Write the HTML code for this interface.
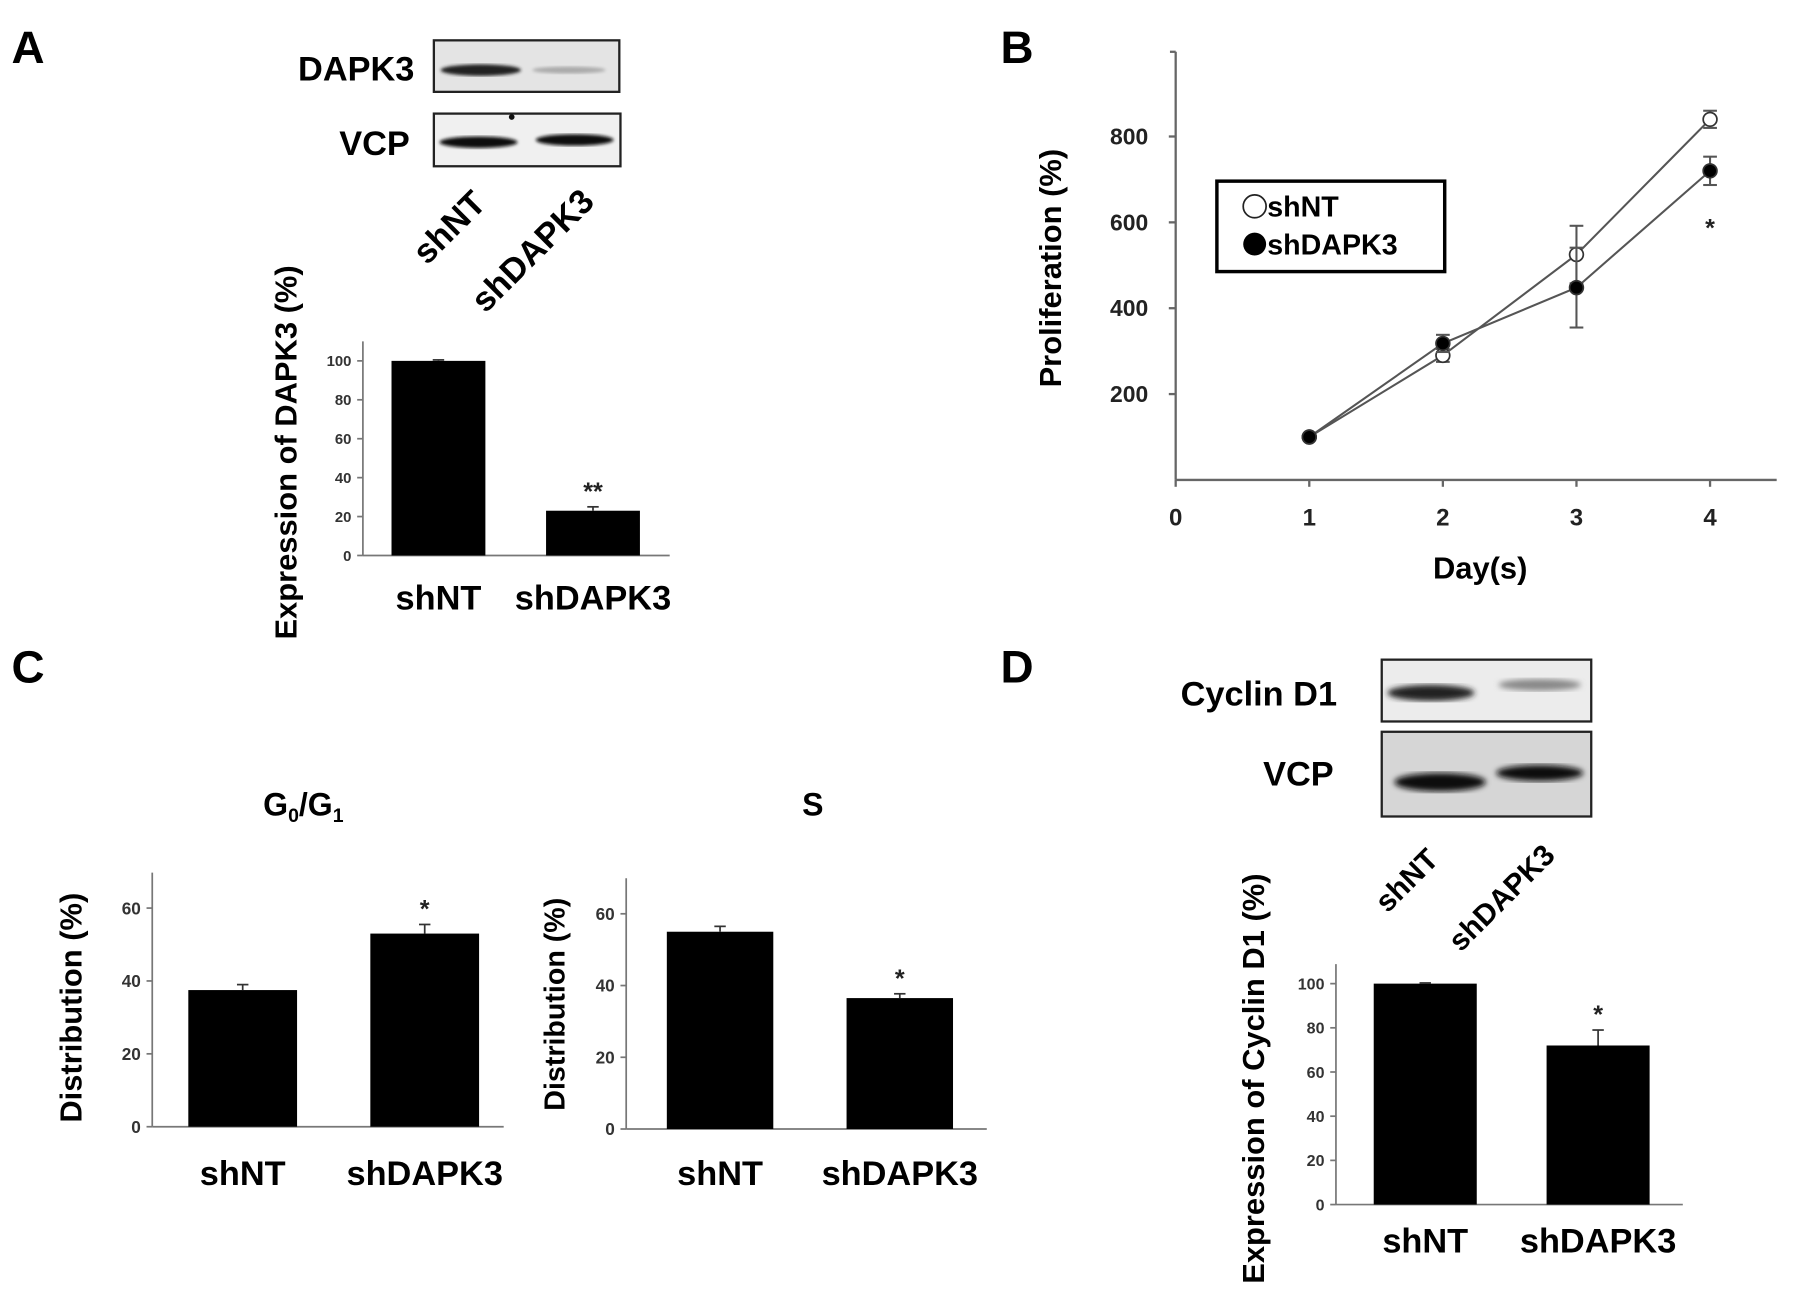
<!DOCTYPE html>
<html><head><meta charset="utf-8"><style>
html,body{margin:0;padding:0;background:#fff}
svg{display:block;font-family:"Liberation Sans",Arial,sans-serif;font-weight:bold}
</style></head><body>
<svg id="fig" width="1795" height="1301" viewBox="0 0 1568 1136" xmlns="http://www.w3.org/2000/svg">
<defs>
<filter id="blur"><feGaussianBlur stdDeviation="2.5"/></filter>
<filter id="blur2"><feGaussianBlur stdDeviation="1.5"/></filter>
</defs>
<text x="10" y="55" font-size="40">A</text>
<text x="874" y="55" font-size="40">B</text>
<text x="10" y="596" font-size="40">C</text>
<text x="874" y="596" font-size="40">D</text>

<g>
<text x="362" y="70" font-size="30" text-anchor="end">DAPK3</text>
<rect x="379" y="35" width="162" height="45" fill="#e4e4e4" stroke="#222" stroke-width="2"/>
<ellipse cx="420" cy="61" rx="35" ry="5" fill="#222" filter="url(#blur2)"/>
<ellipse cx="497" cy="61" rx="32" ry="3" fill="#aaa" filter="url(#blur2)"/>
<text x="358" y="135" font-size="30" text-anchor="end">VCP</text>
<rect x="379" y="99" width="163" height="46" fill="#f0f0f0" stroke="#222" stroke-width="2"/>
<ellipse cx="418" cy="124" rx="34" ry="5" fill="#111" filter="url(#blur2)"/>
<ellipse cx="502" cy="122" rx="34" ry="5" fill="#111" filter="url(#blur2)"/>
<circle cx="447" cy="102" r="2.5" fill="#111"/>
<text x="0" y="0" font-size="30" transform="translate(373,232) rotate(-45)">shNT</text>
<text x="0" y="0" font-size="30" transform="translate(424,274) rotate(-45)">shDAPK3</text>
</g>

<g>
<text x="1168" y="616" font-size="30" text-anchor="end">Cyclin D1</text>
<rect x="1207" y="576" width="183" height="54" fill="#ececec" stroke="#222" stroke-width="2"/>
<ellipse cx="1250" cy="605" rx="38" ry="7" fill="#222" filter="url(#blur)"/>
<ellipse cx="1345" cy="598" rx="36" ry="5" fill="#888" filter="url(#blur)"/>
<text x="1165" y="686" font-size="30" text-anchor="end">VCP</text>
<rect x="1207" y="639" width="183" height="74" fill="#d6d6d6" stroke="#222" stroke-width="2"/>
<ellipse cx="1258" cy="683" rx="40" ry="8" fill="#111" filter="url(#blur)"/>
<ellipse cx="1345" cy="675" rx="38" ry="7" fill="#111" filter="url(#blur)"/>
<text x="0" y="0" font-size="26" transform="translate(1212,798) rotate(-45)">shNT</text>
<text x="0" y="0" font-size="26" transform="translate(1276,832) rotate(-45)">shDAPK3</text>
</g>

<text x="265" y="712" font-size="28" text-anchor="middle">G<tspan font-size="17" dy="6">0</tspan><tspan dy="-6">/G</tspan><tspan font-size="17" dy="6">1</tspan></text>
<text x="710" y="712" font-size="28" text-anchor="middle">S</text>

<g id="charts"></g>
</svg>
<script>
const NS="http://www.w3.org/2000/svg";
const root=document.getElementById('charts');
function mk(tag,attrs,parent,text){const e=document.createElementNS(NS,tag);for(const k in attrs)e.setAttribute(k,attrs[k]);if(text!==undefined)e.textContent=text;(parent||root).appendChild(e);return e;}

const barCategories=["shNT","shDAPK3"];
const aValues=[100,23];
const aErrors=[0.5,2];
const aSig=["","**"];
const aTicks=[0,20,40,60,80,100];
const g1Values=[37.5,53];
const g1Errors=[1.5,2.5];
const g1Sig=["","*"];
const sValues=[55,36.5];
const sErrors=[1.5,1.2];
const sSig=["","*"];
const cTicks=[0,20,40,60];
const dValues=[100,72];
const dErrors=[0.3,7];
const dSig=["","*"];
const dTicks=[0,20,40,60,80,100];
const days=[1,2,3,4];
const xTicksB=[0,1,2,3,4];
const yTicksB=[200,400,600,800];
const shNT=[100,290,525,840];
const shNTErr=[5,15,67,20];
const shDAPK3=[100,318,448,720];
const shDAPK3Err=[5,20,93,33];

function barChart(o){
  const g=mk('g',{});
  
  
  const y=v=>o.y0-(v/o.vmax)*(o.y0-o.yTop);
  const ax=mk('line',{x1:o.x0,y1:o.axTop,x2:o.x0,y2:o.y0,stroke:'#777','stroke-width':1.5},g);
  
  
  const bx=mk('line',{x1:o.x0,y1:o.y0,x2:o.x1,y2:o.y0,stroke:'#777','stroke-width':1.5},g);
  
  
  o.ticks.forEach(t=>{
    mk('line',{x1:o.x0-5,y1:y(t),x2:o.x0,y2:y(t),stroke:'#777','stroke-width':1.5},g);
    const tl=mk('text',{x:o.x0-10,y:y(t)+o.tf*0.36,'font-size':o.tf,'text-anchor':'end',fill:'#333'},g,String(t));
    
    
  });
  o.values.forEach((v,i)=>{
    const cx=o.centers[i];
    const b=mk('rect',{x:cx-o.bw/2,y:y(v),width:o.bw,height:o.y0-y(v),fill:'#000'},g);
    
    
    const e=o.errors[i];
    mk('line',{x1:cx,y1:y(v),x2:cx,y2:y(v+e),stroke:'#333','stroke-width':1.5},g);
    mk('line',{x1:cx-5,y1:y(v+e),x2:cx+5,y2:y(v+e),stroke:'#333','stroke-width':1.5},g);
    if(o.sig[i]){
      const s=mk('text',{x:cx,y:y(v+e)-6,'font-size':22,'text-anchor':'middle',fill:'#222'},g,o.sig[i]);
      
      
    }
    const l=mk('text',{x:cx,y:o.labY,'font-size':o.lf,'text-anchor':'middle'},g,barCategories[i]);
    
    
  });
  const t=mk('text',{x:0,y:0,'font-size':o.titleSize,'text-anchor':'middle',transform:`translate(${o.titleX},${o.titleY}) rotate(-90)`},g,o.title);
  
  
}

barChart({name:'chart-a-dapk3-expression',x0:317,x1:585,y0:485,yTop:315,axTop:298,vmax:100,ticks:aTicks,tf:13,values:aValues,errors:aErrors,sig:aSig,centers:[383,518],bw:82,labY:532,lf:30,title:'Expression of DAPK3 (%)',titleX:259,titleY:395,titleSize:27});
barChart({name:'chart-c-g0g1',x0:133,x1:440,y0:984,yTop:793,axTop:762,vmax:60,ticks:cTicks,tf:15,values:g1Values,errors:g1Errors,sig:g1Sig,centers:[212,371],bw:95,labY:1035,lf:30,title:'Distribution (%)',titleX:71,titleY:880,titleSize:27});
barChart({name:'chart-c-s-phase',x0:547,x1:862,y0:986,yTop:798,axTop:767,vmax:60,ticks:cTicks,tf:15,values:sValues,errors:sErrors,sig:sSig,centers:[629,786],bw:93,labY:1035,lf:30,title:'Distribution (%)',titleX:493,titleY:877,titleSize:25});
barChart({name:'chart-d-cyclin-d1',x0:1167,x1:1470,y0:1052,yTop:859,axTop:842,vmax:100,ticks:dTicks,tf:14,values:dValues,errors:dErrors,sig:dSig,centers:[1245,1396],bw:90,labY:1094,lf:30,title:'Expression of Cyclin D1 (%)',titleX:1104,titleY:942,titleSize:27});

(function(){
  const g=mk('g',{});
  
  
  const X0=1027,Y0=419,px=116.7,py=0.375;
  const x=d=>X0+d*px, y=v=>Y0-v*py;
  const ya=mk('line',{x1:X0,y1:45,x2:X0,y2:Y0,stroke:'#666','stroke-width':2},g);
  
  
  const xa=mk('line',{x1:X0,y1:Y0,x2:1552,y2:Y0,stroke:'#666','stroke-width':2},g);
  
  
  mk('line',{x1:X0-5,y1:45,x2:X0,y2:45,stroke:'#666','stroke-width':2},g);
  yTicksB.forEach(t=>{
    mk('line',{x1:X0-6,y1:y(t),x2:X0,y2:y(t),stroke:'#666','stroke-width':2},g);
    const l=mk('text',{x:1003,y:y(t)+7,'font-size':20,'text-anchor':'end',fill:'#222'},g,String(t));
    
    
  });
  xTicksB.forEach(t=>{
    mk('line',{x1:x(t),y1:Y0,x2:x(t),y2:Y0+6,stroke:'#666','stroke-width':2},g);
    const l=mk('text',{x:x(t),y:459,'font-size':21,'text-anchor':'middle',fill:'#222'},g,String(t));
    
    
  });
  const yt=mk('text',{x:0,y:0,'font-size':27,'text-anchor':'middle',transform:'translate(927,234) rotate(-90)'},g,'Proliferation (%)');
  
  
  const xt=mk('text',{x:1293,y:505,'font-size':27,'text-anchor':'middle'},g,'Day(s)');
  
  
  function series(vals,errs,fill,name){
    const pl=mk('polyline',{points:vals.map((v,i)=>x(days[i])+','+y(v)).join(' '),fill:'none',stroke:'#555','stroke-width':1.8},g);
    
    
    vals.forEach((v,i)=>{
      const cx=x(days[i]),e=errs[i];
      mk('line',{x1:cx,y1:y(v-e),x2:cx,y2:y(v+e),stroke:'#555','stroke-width':1.8},g);
      mk('line',{x1:cx-6,y1:y(v-e),x2:cx+6,y2:y(v-e),stroke:'#555','stroke-width':1.8},g);
      mk('line',{x1:cx-6,y1:y(v+e),x2:cx+6,y2:y(v+e),stroke:'#555','stroke-width':1.8},g);
    });
    vals.forEach((v,i)=>{
      const c=mk('circle',{cx:x(days[i]),cy:y(v),r:6,fill:fill,stroke:'#333','stroke-width':1.5},g);
      
      
    });
  }
  series(shNT,shNTErr,'#fff','shnt');
  series(shDAPK3,shDAPK3Err,'#000','shdapk3');
  const st=mk('text',{x:x(4),y:y(shDAPK3[3]-shDAPK3Err[3])+45,'font-size':22,'text-anchor':'middle',fill:'#222'},g,'*');
  
  
  const lg=mk('g',{},g);
  
  
  mk('rect',{x:1063,y:158,width:199,height:79,fill:'#fff',stroke:'#000','stroke-width':3},lg);
  mk('circle',{cx:1096,cy:180,r:10,fill:'#fff',stroke:'#222','stroke-width':1.5},lg);
  const l1=mk('text',{x:1107,y:189,'font-size':25},lg,'shNT');
  
  
  mk('circle',{cx:1096,cy:213,r:10,fill:'#000'},lg);
  const l2=mk('text',{x:1107,y:222,'font-size':25},lg,'shDAPK3');
  
  
})();
</script>
</body></html>
